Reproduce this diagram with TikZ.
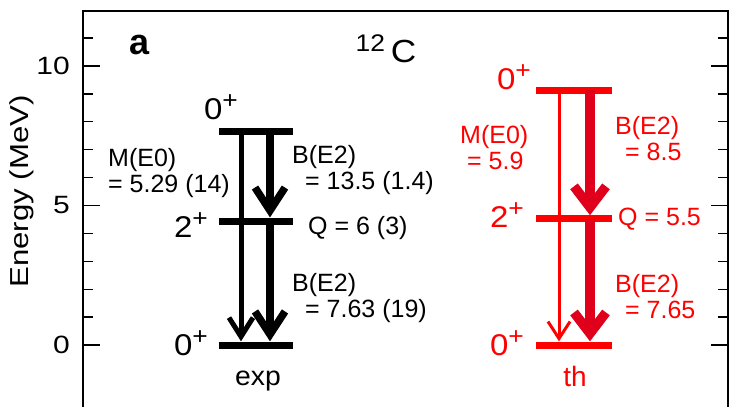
\documentclass[tikz,border=0pt]{standalone}
\usepackage{fontspec}
\setmainfont{Liberation Sans}
\usetikzlibrary{arrows.meta}
\definecolor{thred}{RGB}{255,0,0}
\definecolor{thdark}{RGB}{224,0,27}
\newcommand{\parity}{\raisebox{11bp}{\fontsize{24bp}{24bp}\selectfont +}}

\begin{document}
\begin{tikzpicture}[x=1bp, y=27.9bp,
	level/.style={fill, inner sep=0pt, minimum height=7bp},
	ticklbl/.style={font=\fontsize{25bp}{25bp}\selectfont, inner sep=0pt, anchor=east, xscale=1.2},
	spinlbl/.style={font=\fontsize{30bp}{30bp}\selectfont, inner sep=0pt, xscale=1.1},
	note/.style={font=\fontsize{25bp}{26bp}\selectfont, inner sep=0pt, anchor=west, align=left},
	expthin/.style={line width=5bp, -{Straight Barb[length=19bp,width=24bp]}},
	expthick/.style={line width=7.5bp, -{Straight Barb[length=23bp,width=30bp]}},
	ththin/.style={thred, line width=3bp, -{Straight Barb[length=17bp,width=22bp]}},
	ththick/.style={thdark, line width=9.5bp, -{Straight Barb[length=21bp,width=32bp]}}]
	
	\useasboundingbox (0,-2.186) rectangle (730,12.366);
	
	% Frame and ticks
	\draw[line width=1.3bp] (83,-2.3) -- (83,11.97) -- (728,11.97) -- (728,-2.3);
	\foreach \e in {0,...,11} {
		\pgfmathsetmacro{\tl}{mod(\e,5)==0 ? 17 : 10}
		\draw[line width=1.3bp] (83,\e) -- ++(\tl,0);
		\draw[line width=1.3bp] (728,\e) -- ++(-\tl,0);
	}
	\foreach \e in {0,5,10}
		\node[ticklbl] (tick\e) at (70,\e) {\e};
	\node[font=\fontsize{26bp}{26bp}\selectfont, inner sep=0pt, rotate=90, xscale=1.2] (ylab) at (22,5.5) {Energy (MeV)};
	
	% Panel and nucleus
	\node[font=\bfseries\fontsize{36bp}{36bp}\selectfont, inner sep=0pt] (panel) at (140,10.75) {a};
	\node[font=\fontsize{32bp}{32bp}\selectfont, inner sep=0pt, xscale=1.1] (nucl) at (386,10.62) {\raisebox{11bp}{\fontsize{24bp}{24bp}\selectfont 12}\,C};
	
	% Experimental levels
	\node[level, minimum width=74bp] (exp0) at (256,0) {};
	\node[level, minimum width=74bp] (exp2) at (256,4.44) {};
	\node[level, minimum width=74bp] (exp7) at (256,7.65) {};
	\draw[expthin] ([xshift=-15bp]exp7.center) -- ([xshift=-15bp]exp0.north);
	\draw[expthick] ([xshift=14bp]exp7.center) -- ([xshift=14bp]exp2.north);
	\draw[expthick] ([xshift=14bp]exp2.center) -- ([xshift=14bp]exp0.north);
	
	\node[spinlbl] (sexp7) at (221,8.53) {0\parity};
	\node[spinlbl] (sexp2) at (191,4.30) {2\parity};
	\node[spinlbl] (sexp0) at (191,0.07) {0\parity};
	\node[font=\fontsize{27bp}{27bp}\selectfont, inner sep=0pt, xscale=1.05] (lexp) at (258,-1.29) {exp};
	
	\node[note] (me0exp) at (108,6.18) {M(E0)\\= 5.29 (14)};
	\node[note] (be2expa) at (292,6.27) {B(E2)\\\hspace*{13bp}= 13.5 (1.4)};
	\node[note] (qexp) at (308,4.19) {Q = 6 (3)};
	\node[note] (be2expb) at (292,1.67) {B(E2)\\\hspace*{13bp}= 7.63 (19)};
	
	% Theory levels
	\node[level, thred, minimum width=76bp] (th0) at (574,0) {};
	\node[level, thred, minimum width=76bp] (th2) at (574,4.52) {};
	\node[level, thred, minimum width=76bp] (th9) at (574,9.14) {};
	\draw[ththin] ([xshift=-15bp]th9.center) -- ([xshift=-15bp]th0.north);
	\draw[ththick] ([xshift=16bp]th9.center) -- ([xshift=16bp]th2.north);
	\draw[ththick] ([xshift=16bp]th2.center) -- ([xshift=16bp]th0.north);
	
	\node[spinlbl, thred] (sth9) at (514,9.61) {0\parity};
	\node[spinlbl, thred] (sth2) at (507,4.66) {2\parity};
	\node[spinlbl, thred] (sth0) at (507,0.07) {0\parity};
	\node[font=\fontsize{28bp}{28bp}\selectfont, inner sep=0pt, thred] (lth) at (575,-1.11) {th};
	
	\node[note, thred] (me0th) at (460,7.08) {M(E0)\\\hspace*{7bp}= 5.9};
	\node[note, thred] (be2tha) at (615,7.40) {B(E2)\\\hspace*{10bp}= 8.5};
	\node[note, thred] (qth) at (618,4.52) {Q = 5.5};
	\node[note, thred] (be2thb) at (615,1.74) {B(E2)\\\hspace*{10bp}= 7.65};
	
\end{tikzpicture}
\end{document}
